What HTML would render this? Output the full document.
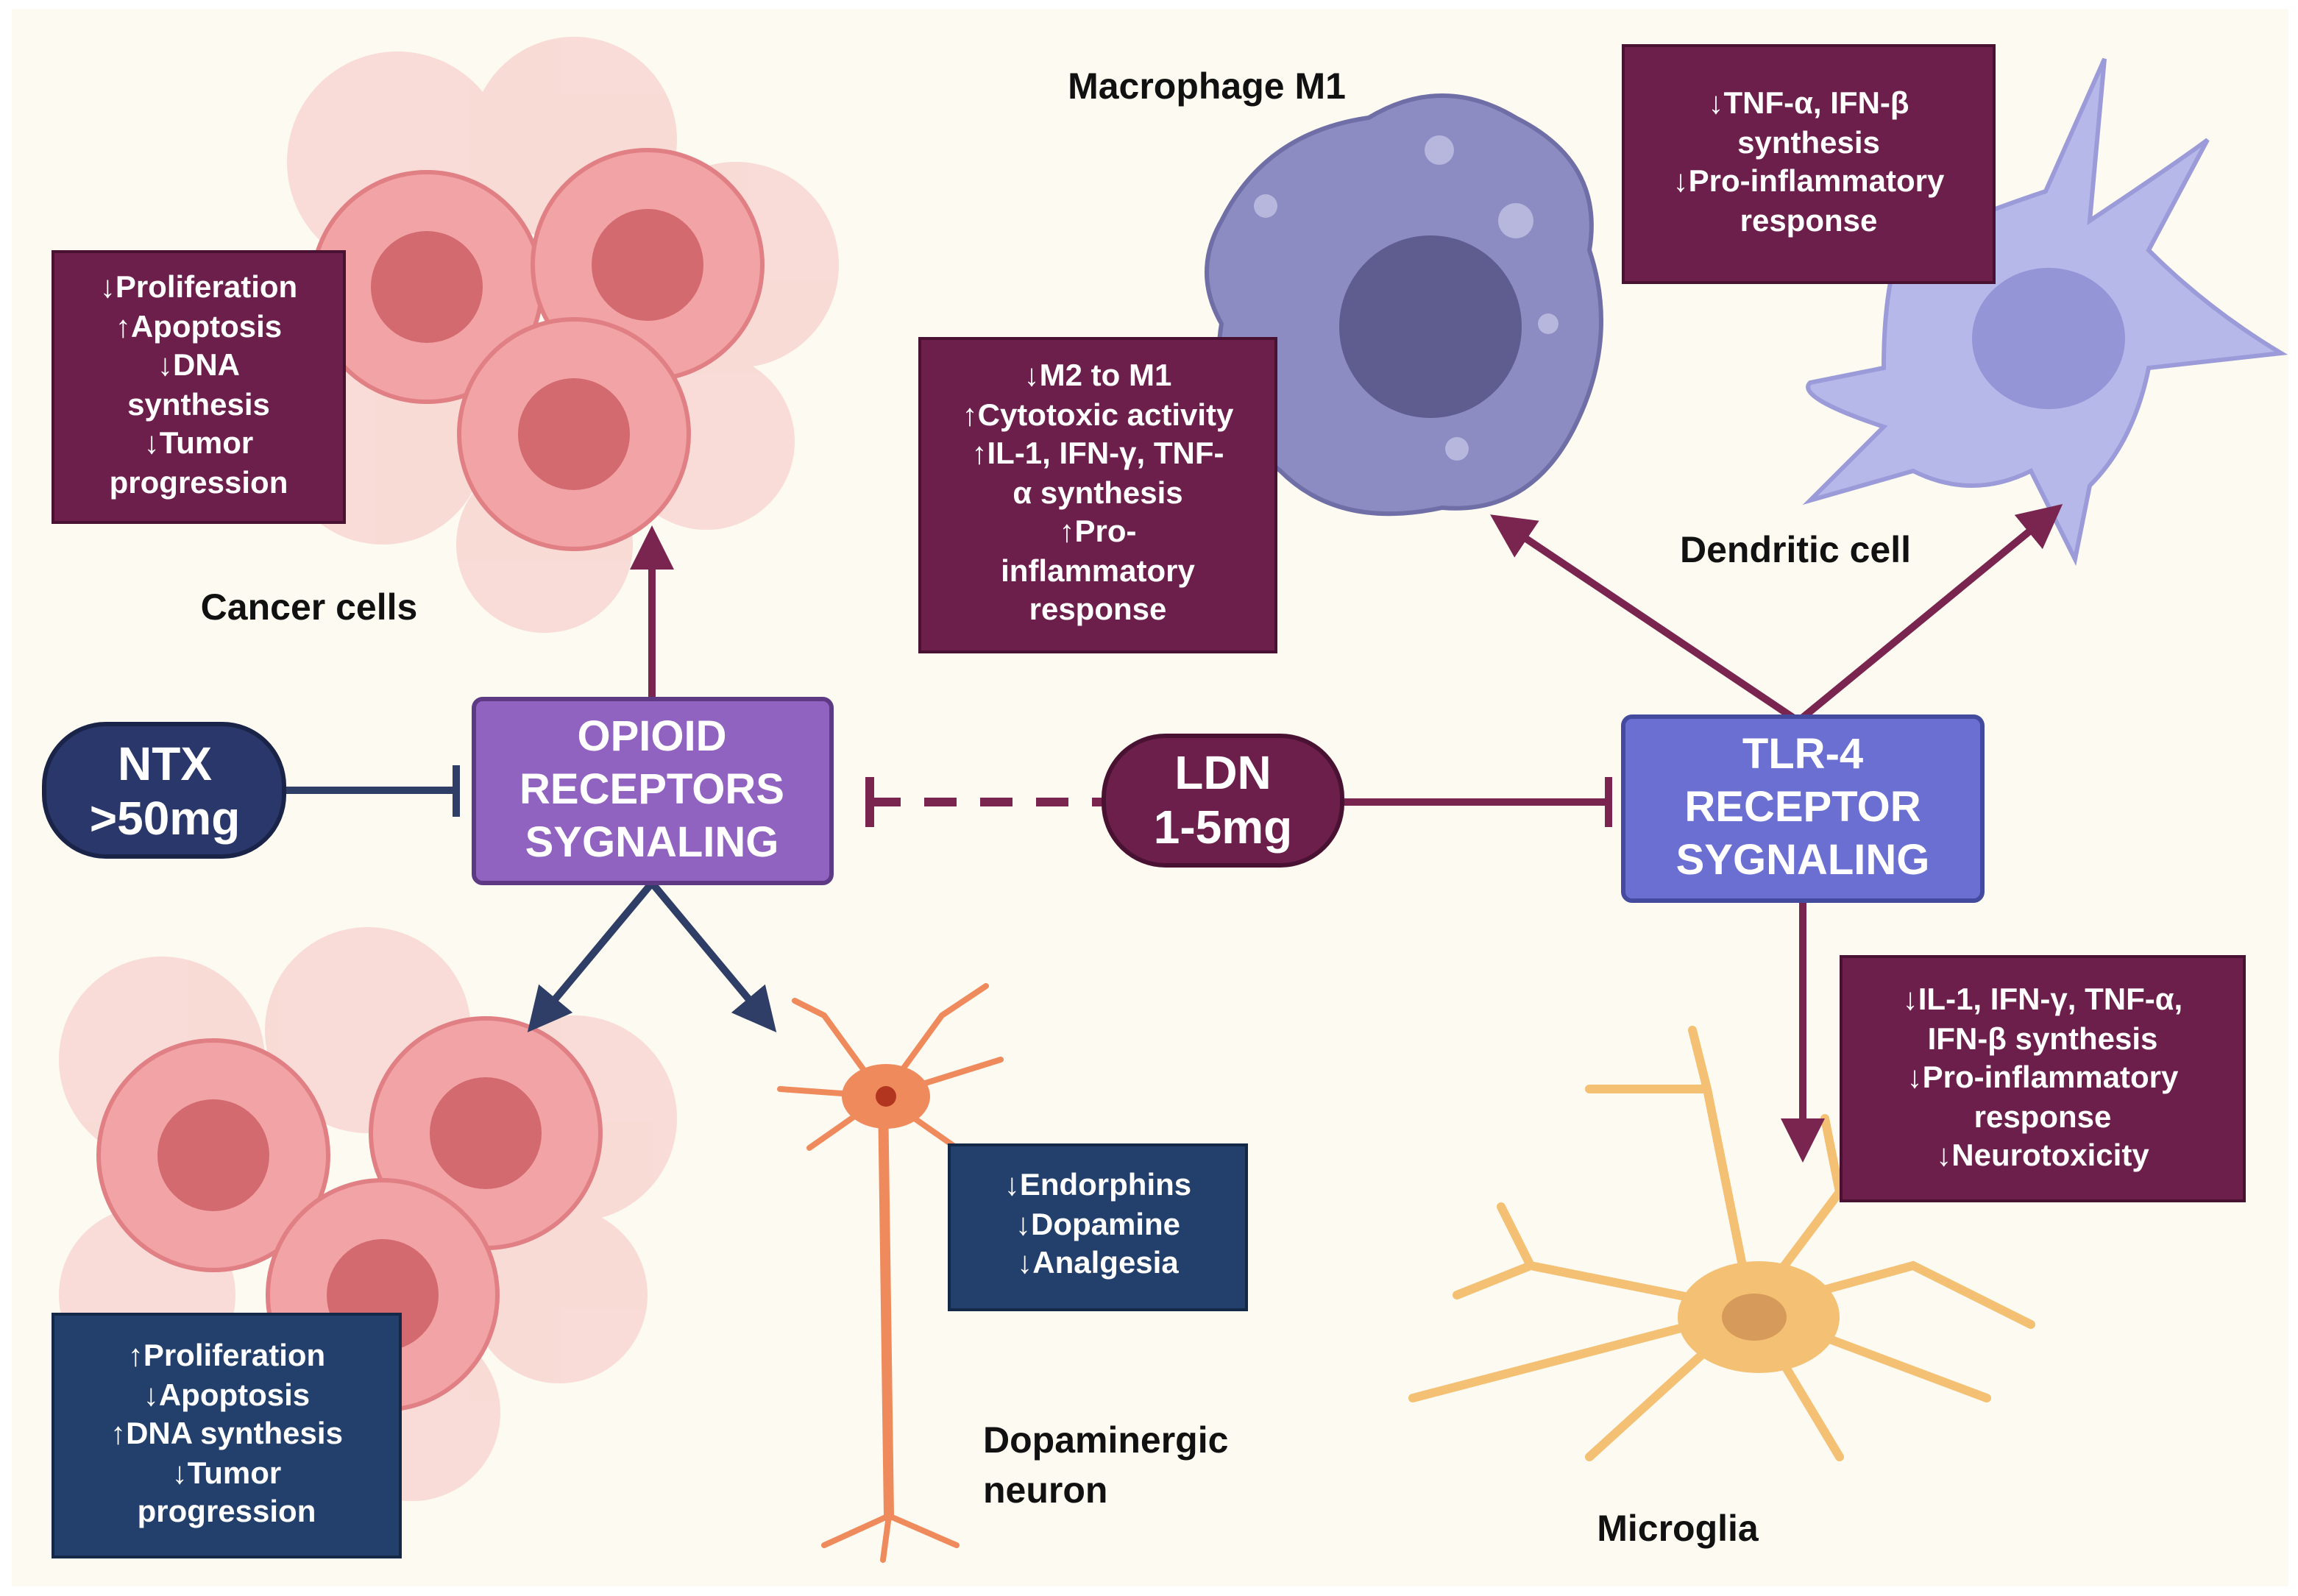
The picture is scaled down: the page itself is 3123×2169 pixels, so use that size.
<!DOCTYPE html>
<html><head><meta charset="utf-8"><style>html,body{margin:0;padding:0;background:#fff}svg{display:block}</style></head>
<body>
<svg width="3123" height="2169" viewBox="0 0 1561.5 1084.5" xmlns="http://www.w3.org/2000/svg" font-family="Liberation Sans, sans-serif" font-weight="bold">
<defs>
<marker id="am" markerWidth="6" markerHeight="6" refX="3" refY="3" orient="auto" markerUnits="strokeWidth"><path d="M0,0 L6,3 L0,6 z" fill="#7a2550"/></marker>
<marker id="an" markerWidth="6" markerHeight="6" refX="3" refY="3" orient="auto" markerUnits="strokeWidth"><path d="M0,0 L6,3 L0,6 z" fill="#2e3e66"/></marker>
<g id="cell"><circle r="78" fill="#f2a3a5" stroke="#e07f84" stroke-width="3"/><circle r="38" fill="#d26a70"/></g>
</defs>
<rect x="0" y="0" width="1561.5" height="1084.5" fill="#fff"/>
<rect x="8" y="6" width="1547" height="1072" fill="#fdfaf1"/>

<!-- top cancer cluster -->
<g opacity="0.35"><circle cx="270" cy="110" r="75" fill="#f2a3a5"/><circle cx="390" cy="95" r="70" fill="#f2a3a5"/><circle cx="500" cy="180" r="70" fill="#f2a3a5"/><circle cx="260" cy="300" r="70" fill="#f2a3a5"/><circle cx="480" cy="300" r="60" fill="#f2a3a5"/><circle cx="370" cy="370" r="60" fill="#f2a3a5"/></g>
<use href="#cell" x="290" y="195"/><use href="#cell" x="440" y="180"/><use href="#cell" x="390" y="295"/>
<!-- bottom cancer cluster -->
<g opacity="0.35"><circle cx="110" cy="720" r="70" fill="#f2a3a5"/><circle cx="250" cy="700" r="70" fill="#f2a3a5"/><circle cx="390" cy="760" r="70" fill="#f2a3a5"/><circle cx="100" cy="880" r="60" fill="#f2a3a5"/><circle cx="380" cy="880" r="60" fill="#f2a3a5"/><circle cx="280" cy="960" r="60" fill="#f2a3a5"/></g>
<use href="#cell" x="145" y="785"/><use href="#cell" x="330" y="770"/><use href="#cell" x="260" y="880"/>

<!-- macrophage -->
<path d="M830,150 Q860,90 930,80 Q980,50 1030,80 Q1090,110 1080,170 Q1100,230 1070,290 Q1040,350 980,345 Q910,360 870,320 Q820,280 830,220 Q810,185 830,150z" fill="#8c8bc2" stroke="#6f6ea6" stroke-width="3"/>
<circle cx="972" cy="222" r="62" fill="#5f5c90"/>
<circle cx="978" cy="102" r="10" fill="#b7b6dd"/><circle cx="1030" cy="150" r="12" fill="#b7b6dd"/><circle cx="860" cy="140" r="8" fill="#b7b6dd"/><circle cx="990" cy="305" r="8" fill="#b7b6dd"/><circle cx="1052" cy="220" r="7" fill="#b7b6dd"/>
<!-- dendritic -->
<path d="M1290,170 Q1330,150 1390,130 L1430,40 L1420,150 Q1480,110 1500,95 L1460,170 Q1500,210 1550,240 L1460,250 Q1450,300 1420,330 L1410,380 L1380,320 Q1340,340 1300,320 L1230,340 L1280,290 Q1220,270 1230,260 L1280,250 Q1280,200 1290,170z" fill="#b7b8ea" stroke="#9a9bd8" stroke-width="3"/>
<ellipse cx="1392" cy="230" rx="52" ry="48" fill="#9395d6"/>
<!-- neuron -->
<g stroke="#ee8a5c" stroke-linecap="round" fill="none">
<path d="M600,745 L604,1030" stroke-width="7"/>
<path d="M600,745 L560,690 M600,745 L640,690 M600,745 L530,740 M600,745 L680,720 M600,745 L550,780 M600,745 L650,780 M560,690 L540,680 M640,690 L670,670 M604,1030 L560,1050 M604,1030 L650,1050 M604,1030 L600,1060" stroke-width="4"/>
</g>
<ellipse cx="602" cy="745" rx="30" ry="22" fill="#ee8a5c"/><circle cx="602" cy="745" r="7" fill="#b2361f"/>
<!-- microglia -->
<g stroke="#f4c073" stroke-linecap="round" fill="none" stroke-width="6">
<path d="M1190,890 L1160,740 L1150,700 M1190,890 L1040,860 L990,880 M1190,890 L960,950 M1190,890 L1080,990 M1190,890 L1250,990 M1190,890 L1300,860 L1380,900 M1190,890 L1250,810 L1240,760 M1190,890 L1350,950 M1160,740 L1080,740 M1040,860 L1020,820"/>
</g>
<ellipse cx="1195" cy="895" rx="55" ry="38" fill="#f4c073"/><ellipse cx="1192" cy="895" rx="22" ry="16" fill="#d69a5a"/>

<!-- connectors -->
<line x1="443" y1="475" x2="443" y2="372" stroke="#7a2550" stroke-width="5" marker-end="url(#am)"/>
<line x1="193" y1="537" x2="310" y2="537" stroke="#2e3e66" stroke-width="5"/>
<line x1="310" y1="520" x2="310" y2="555" stroke="#2e3e66" stroke-width="5"/>
<line x1="590" y1="545" x2="750" y2="545" stroke="#7a2550" stroke-width="6" stroke-dasharray="22,16"/>
<line x1="591" y1="528" x2="591" y2="562" stroke="#7a2550" stroke-width="6"/>
<line x1="912" y1="545" x2="1092" y2="545" stroke="#7a2550" stroke-width="5"/>
<line x1="1093" y1="528" x2="1093" y2="562" stroke="#7a2550" stroke-width="5"/>
<line x1="1222" y1="490" x2="1025" y2="358" stroke="#7a2550" stroke-width="5" marker-end="url(#am)"/>
<line x1="1222" y1="490" x2="1390" y2="352" stroke="#7a2550" stroke-width="5" marker-end="url(#am)"/>
<line x1="1225" y1="612" x2="1225" y2="775" stroke="#7a2550" stroke-width="5" marker-end="url(#am)"/>
<line x1="443" y1="600" x2="368" y2="690" stroke="#2e3e66" stroke-width="5" marker-end="url(#an)"/>
<line x1="443" y1="600" x2="518" y2="690" stroke="#2e3e66" stroke-width="5" marker-end="url(#an)"/>

<!-- nodes -->
<rect x="30" y="492" width="163" height="90" rx="42" fill="#2a376a" stroke="#1a2348" stroke-width="3"/>
<text fill="#fff" font-size="32" text-anchor="middle"><tspan x="112" y="530">NTX</tspan><tspan x="112" y="567">&gt;50mg</tspan></text>
<rect x="322" y="475" width="243" height="125" rx="6" fill="#9063c0" stroke="#5e3a84" stroke-width="3"/>
<text fill="#fff" font-size="29" text-anchor="middle"><tspan x="443" y="510">OPIOID</tspan><tspan x="443" y="546">RECEPTORS</tspan><tspan x="443" y="582">SYGNALING</tspan></text>
<rect x="750" y="500" width="162" height="88" rx="42" fill="#6b1f4a" stroke="#4a1232" stroke-width="3"/>
<text fill="#fff" font-size="32" text-anchor="middle"><tspan x="831" y="536">LDN</tspan><tspan x="831" y="573">1-5mg</tspan></text>
<rect x="1103" y="487" width="244" height="125" rx="6" fill="#6b6fd2" stroke="#444a9e" stroke-width="3"/>
<text fill="#fff" font-size="29" text-anchor="middle"><tspan x="1225" y="522">TLR-4</tspan><tspan x="1225" y="558">RECEPTOR</tspan><tspan x="1225" y="594">SYGNALING</tspan></text>

<!-- info boxes -->
<g font-size="21" fill="#fff" text-anchor="middle">
<rect x="36" y="171" width="198" height="184" fill="#6b1f4a" stroke="#4a1232" stroke-width="2"/>
<text><tspan x="135" y="202">↓Proliferation</tspan><tspan x="135" y="229">↑Apoptosis</tspan><tspan x="135" y="255">↓DNA</tspan><tspan x="135" y="282">synthesis</tspan><tspan x="135" y="308">↓Tumor</tspan><tspan x="135" y="335">progression</tspan></text>
<rect x="625" y="230" width="242" height="213" fill="#6b1f4a" stroke="#4a1232" stroke-width="2"/>
<text><tspan x="746" y="262">↓M2 to M1</tspan><tspan x="746" y="289">↑Cytotoxic activity</tspan><tspan x="746" y="315">↑IL-1, IFN-γ, TNF-</tspan><tspan x="746" y="342">α synthesis</tspan><tspan x="746" y="368">↑Pro-</tspan><tspan x="746" y="395">inflammatory</tspan><tspan x="746" y="421">response</tspan></text>
<rect x="1103" y="31" width="252" height="161" fill="#6b1f4a" stroke="#4a1232" stroke-width="2"/>
<text><tspan x="1229" y="77">↓TNF-α, IFN-β</tspan><tspan x="1229" y="104">synthesis</tspan><tspan x="1229" y="130">↓Pro-inflammatory</tspan><tspan x="1229" y="157">response</tspan></text>
<rect x="1251" y="650" width="274" height="166" fill="#6b1f4a" stroke="#4a1232" stroke-width="2"/>
<text><tspan x="1388" y="686">↓IL-1, IFN-γ, TNF-α,</tspan><tspan x="1388" y="713">IFN-β synthesis</tspan><tspan x="1388" y="739">↓Pro-inflammatory</tspan><tspan x="1388" y="766">response</tspan><tspan x="1388" y="792">↓Neurotoxicity</tspan></text>
<rect x="645" y="778" width="202" height="112" fill="#233f6b" stroke="#142848" stroke-width="2"/>
<text><tspan x="746" y="812">↓Endorphins</tspan><tspan x="746" y="839">↓Dopamine</tspan><tspan x="746" y="865">↓Analgesia</tspan></text>
<rect x="36" y="893" width="236" height="165" fill="#233f6b" stroke="#142848" stroke-width="2"/>
<text><tspan x="154" y="928">↑Proliferation</tspan><tspan x="154" y="955">↓Apoptosis</tspan><tspan x="154" y="981">↑DNA synthesis</tspan><tspan x="154" y="1008">↓Tumor</tspan><tspan x="154" y="1034">progression</tspan></text>
</g>

<!-- labels -->
<g font-size="25" fill="#111">
<text x="210" y="421" text-anchor="middle">Cancer cells</text>
<text x="820" y="67" text-anchor="middle">Macrophage M1</text>
<text x="1220" y="382" text-anchor="middle">Dendritic cell</text>
<text x="668" y="987">Dopaminergic</text>
<text x="668" y="1021">neuron</text>
<text x="1140" y="1047" text-anchor="middle">Microglia</text>
</g>
</svg>
</body></html>
